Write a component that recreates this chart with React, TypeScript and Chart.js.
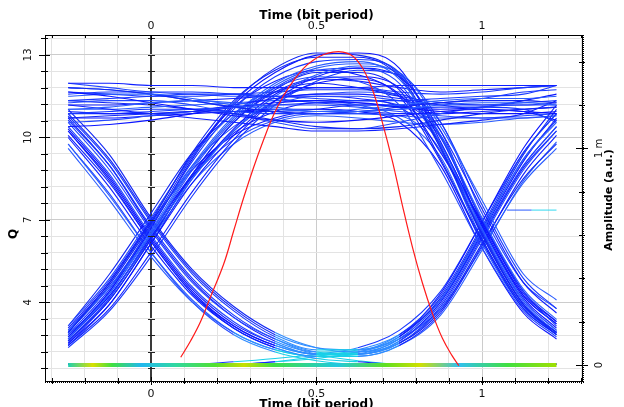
import React, { useEffect, useRef } from 'react';
import { Chart, registerables } from 'chart.js';

Chart.register(...registerables);

// ---- axis ranges / ticks ----
const X_MIN = -0.32;
const X_MAX = 1.302;
const Q_MIN = 1.138;
const Q_MAX = 13.72;
const AMP_MIN = -0.0738;
const AMP_MAX = 1.523;

const X_TICKS = [-0.3, -0.2, -0.1, 0, 0.1, 0.2, 0.3, 0.4, 0.5, 0.6, 0.7, 0.8, 0.9, 1, 1.1, 1.2, 1.3];
const Q_TICKS = [1.6, 2.2, 2.8, 3.4, 4, 4.6, 5.2, 5.8, 6.4, 7, 7.6, 8.2, 8.8, 9.4, 10, 10.6, 11.2, 11.8, 12.4, 13, 13.6];
const AMP_TICKS = [0, 0.2, 0.4, 0.6, 0.8, 1, 1.2, 1.4];

const TIME_LABELS = [0, 0.5, 1];
const Q_LABELS = [4, 7, 10, 13];
const AMP_LABELS = [0, 1];
const AMP_LABEL_TEXT = ['0', '1 m'];

// ---- eye diagram traces (amplitude in m a.u.) sampled at TRACE_T ----
const TRACE_T = [-0.25, -0.125, 0, 0.125, 0.25, 0.375, 0.5, 0.625, 0.75, 0.875, 1.0, 1.125, 1.225];

const highHigh = [
  [1.30, 1.30, 1.29, 1.29, 1.28, 1.28, 1.28, 1.28, 1.29, 1.29, 1.29, 1.29, 1.29],
  [1.22, 1.23, 1.24, 1.25, 1.25, 1.24, 1.23, 1.22, 1.22, 1.23, 1.24, 1.25, 1.29],
  [1.18, 1.19, 1.21, 1.22, 1.21, 1.19, 1.17, 1.17, 1.18, 1.20, 1.21, 1.21, 1.20],
  [1.14, 1.15, 1.16, 1.17, 1.16, 1.13, 1.10, 1.09, 1.10, 1.13, 1.16, 1.18, 1.19],
  [1.26, 1.24, 1.21, 1.18, 1.15, 1.13, 1.12, 1.13, 1.15, 1.17, 1.18, 1.17, 1.16],
  [1.12, 1.13, 1.15, 1.17, 1.19, 1.20, 1.20, 1.19, 1.17, 1.15, 1.14, 1.14, 1.15],
  [1.20, 1.18, 1.16, 1.14, 1.12, 1.10, 1.08, 1.08, 1.09, 1.11, 1.13, 1.16, 1.22],
  [1.16, 1.17, 1.18, 1.18, 1.17, 1.16, 1.16, 1.17, 1.18, 1.19, 1.19, 1.18, 1.12],
  [1.24, 1.25, 1.25, 1.23, 1.20, 1.18, 1.17, 1.18, 1.20, 1.22, 1.23, 1.23, 1.24],
  [1.28, 1.27, 1.25, 1.22, 1.19, 1.17, 1.16, 1.17, 1.19, 1.21, 1.22, 1.22, 1.21],
  [1.10, 1.11, 1.13, 1.16, 1.19, 1.21, 1.22, 1.21, 1.19, 1.17, 1.16, 1.16, 1.17],
  [1.21, 1.22, 1.22, 1.20, 1.16, 1.12, 1.09, 1.09, 1.12, 1.16, 1.19, 1.20, 1.20],
  [1.17, 1.16, 1.16, 1.17, 1.20, 1.23, 1.25, 1.25, 1.23, 1.20, 1.18, 1.17, 1.13],
  [1.25, 1.26, 1.26, 1.26, 1.25, 1.23, 1.21, 1.20, 1.20, 1.21, 1.23, 1.26, 1.27],
];

const lowHighLow = [
  [0.12, 0.33, 0.62, 0.92, 1.15, 1.30, 1.38, 1.40, 1.32, 1.02, 0.63, 0.30, 0.16],
  [0.15, 0.38, 0.66, 0.98, 1.22, 1.36, 1.42, 1.42, 1.33, 1.00, 0.60, 0.28, 0.14],
  [0.10, 0.28, 0.56, 0.84, 1.06, 1.22, 1.30, 1.32, 1.25, 0.98, 0.66, 0.33, 0.20],
  [0.18, 0.40, 0.68, 0.96, 1.16, 1.28, 1.33, 1.31, 1.20, 0.90, 0.54, 0.25, 0.13],
  [0.09, 0.26, 0.52, 0.80, 1.04, 1.22, 1.33, 1.37, 1.33, 1.08, 0.72, 0.38, 0.24],
  [0.14, 0.35, 0.64, 0.94, 1.18, 1.33, 1.40, 1.41, 1.35, 1.05, 0.67, 0.34, 0.18],
  [0.16, 0.36, 0.60, 0.86, 1.08, 1.24, 1.34, 1.38, 1.35, 1.10, 0.76, 0.42, 0.30],
  [0.11, 0.30, 0.58, 0.88, 1.12, 1.27, 1.35, 1.35, 1.27, 0.95, 0.58, 0.27, 0.15],
  [0.13, 0.34, 0.63, 0.95, 1.20, 1.35, 1.43, 1.44, 1.37, 1.03, 0.64, 0.31, 0.17],
  [0.11, 0.31, 0.60, 0.90, 1.13, 1.28, 1.36, 1.37, 1.30, 1.00, 0.62, 0.29, 0.15],
  [0.17, 0.39, 0.67, 0.97, 1.19, 1.31, 1.36, 1.34, 1.24, 0.94, 0.57, 0.26, 0.14],
  [0.08, 0.25, 0.50, 0.78, 1.02, 1.20, 1.31, 1.36, 1.34, 1.12, 0.74, 0.40, 0.26],
  [0.13, 0.33, 0.61, 0.91, 1.14, 1.29, 1.37, 1.39, 1.34, 1.06, 0.68, 0.35, 0.21],
  [0.15, 0.37, 0.65, 0.96, 1.21, 1.37, 1.44, 1.43, 1.34, 1.01, 0.61, 0.28, 0.15],
  [0.12, 0.32, 0.59, 0.87, 1.09, 1.25, 1.32, 1.33, 1.28, 1.02, 0.65, 0.32, 0.19],
];

const highLowHigh = [
  [1.10, 0.88, 0.60, 0.36, 0.20, 0.10, 0.05, 0.05, 0.11, 0.28, 0.60, 0.92, 1.10],
  [1.05, 0.82, 0.55, 0.32, 0.17, 0.08, 0.04, 0.04, 0.09, 0.24, 0.55, 0.88, 1.06],
  [1.15, 0.94, 0.66, 0.42, 0.25, 0.13, 0.07, 0.07, 0.14, 0.32, 0.64, 0.98, 1.16],
  [1.02, 0.78, 0.52, 0.30, 0.15, 0.07, 0.04, 0.05, 0.12, 0.30, 0.62, 0.95, 1.12],
  [1.18, 0.97, 0.68, 0.44, 0.27, 0.15, 0.08, 0.06, 0.10, 0.25, 0.56, 0.86, 1.02],
  [1.08, 0.86, 0.58, 0.34, 0.18, 0.09, 0.05, 0.06, 0.13, 0.33, 0.66, 1.00, 1.20],
  [1.12, 0.90, 0.62, 0.38, 0.22, 0.12, 0.06, 0.05, 0.10, 0.26, 0.58, 0.90, 1.08],
  [1.06, 0.84, 0.57, 0.33, 0.18, 0.09, 0.05, 0.05, 0.10, 0.27, 0.59, 0.91, 1.08],
  [1.13, 0.92, 0.64, 0.40, 0.23, 0.12, 0.06, 0.06, 0.12, 0.30, 0.62, 0.95, 1.13],
  [1.00, 0.76, 0.50, 0.29, 0.15, 0.07, 0.04, 0.04, 0.09, 0.23, 0.53, 0.85, 1.03],
  [1.16, 0.95, 0.67, 0.43, 0.26, 0.14, 0.08, 0.07, 0.13, 0.31, 0.63, 0.97, 1.18],
  [1.09, 0.87, 0.59, 0.35, 0.19, 0.10, 0.05, 0.05, 0.11, 0.29, 0.61, 0.94, 1.14],
];

const lowHighHigh = [
  [0.12, 0.34, 0.64, 0.92, 1.10, 1.20, 1.24, 1.24, 1.22, 1.20, 1.20, 1.21, 1.22],
  [0.16, 0.38, 0.66, 0.90, 1.06, 1.14, 1.17, 1.17, 1.16, 1.16, 1.17, 1.18, 1.19],
  [0.09, 0.28, 0.56, 0.86, 1.08, 1.22, 1.28, 1.28, 1.26, 1.25, 1.26, 1.28, 1.29],
  [0.14, 0.32, 0.58, 0.84, 1.02, 1.12, 1.15, 1.14, 1.12, 1.11, 1.12, 1.14, 1.15],
  [0.18, 0.42, 0.70, 0.98, 1.16, 1.26, 1.30, 1.28, 1.24, 1.21, 1.20, 1.20, 1.21],
  [0.11, 0.31, 0.60, 0.88, 1.07, 1.17, 1.21, 1.21, 1.19, 1.18, 1.19, 1.22, 1.25],
  [0.15, 0.36, 0.62, 0.87, 1.04, 1.13, 1.16, 1.16, 1.15, 1.14, 1.14, 1.15, 1.16],
  [0.10, 0.30, 0.58, 0.88, 1.12, 1.26, 1.32, 1.31, 1.28, 1.26, 1.27, 1.28, 1.29],
];

const highHighLow = [
  [1.26, 1.25, 1.24, 1.24, 1.25, 1.26, 1.27, 1.27, 1.24, 1.08, 0.62, 0.30, 0.16],
  [1.18, 1.18, 1.19, 1.20, 1.21, 1.22, 1.22, 1.20, 1.14, 0.96, 0.56, 0.26, 0.14],
  [1.22, 1.21, 1.20, 1.18, 1.17, 1.17, 1.18, 1.20, 1.20, 1.06, 0.66, 0.34, 0.20],
  [1.14, 1.14, 1.15, 1.16, 1.17, 1.18, 1.18, 1.17, 1.12, 0.92, 0.54, 0.24, 0.12],
  [1.30, 1.28, 1.26, 1.25, 1.24, 1.24, 1.25, 1.26, 1.25, 1.12, 0.70, 0.38, 0.26],
  [1.20, 1.20, 1.21, 1.22, 1.23, 1.24, 1.24, 1.23, 1.19, 1.02, 0.60, 0.28, 0.15],
  [1.16, 1.16, 1.17, 1.18, 1.19, 1.20, 1.21, 1.22, 1.20, 1.05, 0.64, 0.32, 0.19],
  [1.28, 1.27, 1.25, 1.22, 1.19, 1.17, 1.16, 1.16, 1.15, 0.99, 0.58, 0.27, 0.14],
];

const highLowLow = [
  [1.08, 0.85, 0.57, 0.33, 0.17, 0.08, 0.03, 0.015, 0.004, 0.004, 0.004, 0.004, 0.004],
  [1.14, 0.92, 0.63, 0.39, 0.22, 0.11, 0.05, 0.02, 0.004, 0.004, 0.004, 0.004, 0.004],
  [1.02, 0.79, 0.52, 0.29, 0.14, 0.06, 0.02, 0.004, 0.004, 0.004, 0.004, 0.004, 0.004],
];

const lowLowHigh = [
  [0.004, 0.004, 0.004, 0.004, 0.004, 0.015, 0.04, 0.07, 0.14, 0.30, 0.60, 0.92, 1.10],
  [0.004, 0.004, 0.004, 0.004, 0.015, 0.03, 0.05, 0.08, 0.16, 0.34, 0.66, 0.98, 1.16],
  [0.004, 0.004, 0.004, 0.004, 0.004, 0.015, 0.03, 0.06, 0.12, 0.26, 0.54, 0.84, 1.00],
];

// zero level (0-0 bits)
const ZERO_T = [-0.25, 1.225];
const ZERO_A = [0, 0];

// short stray trace at right
const STRAY_T = [1.075, 1.15, 1.225];
const STRAY_A = [0.715, 0.715, 0.715];

// ---- Q factor curve ----
const RED_T = [0.09, 0.12, 0.15, 0.18, 0.22, 0.25, 0.28, 0.31, 0.34, 0.37, 0.40, 0.43, 0.46, 0.49, 0.52, 0.55, 0.58, 0.61, 0.64, 0.67, 0.70, 0.73, 0.76, 0.79, 0.82, 0.85, 0.88, 0.91, 0.93];
const RED_Q = [2.0, 2.6, 3.3, 4.2, 5.4, 6.6, 7.8, 8.9, 9.9, 10.8, 11.5, 12.05, 12.5, 12.8, 13.0, 13.1, 13.1, 12.95, 12.5, 11.7, 10.5, 9.1, 7.5, 6.0, 4.7, 3.6, 2.7, 2.05, 1.7];

const BLUES = ['#0f1fff', '#1838ff', '#2a5cff', '#1026f4', '#0a14ff', '#2448ff'];

const toPoints = (ts: number[], vs: number[]) => ts.map((t, i) => ({ x: t, y: vs[i] }));

const lowSegColor = (ctx: any) => {
  const m = Math.max(ctx.p0.parsed.y, ctx.p1.parsed.y);
  if (m < 0.02) return undefined;
  if (m < 0.075) return '#18d0e8';
  if (m < 0.16) return '#2f8cff';
  return undefined;
};

const decorPlugin = {
  id: 'eyeDecor',
  afterDraw(chart: any) {
    const { ctx, chartArea: a } = chart;
    const xs = chart.scales.x;
    const yq = chart.scales.y;
    const ya = chart.scales.y2;
    ctx.save();
    ctx.strokeStyle = '#000';
    ctx.lineWidth = 1;
    const line = (x1: number, y1: number, x2: number, y2: number) => {
      ctx.beginPath();
      ctx.moveTo(x1, y1);
      ctx.lineTo(x2, y2);
      ctx.stroke();
    };
    const x0 = Math.round(xs.getPixelForValue(0));
    Q_TICKS.forEach((v) => {
      const y = Math.round(yq.getPixelForValue(v)) + 0.5;
      const major = Q_LABELS.includes(v);
      line(a.left - (major ? 6 : 4), y, a.left + (major ? 5 : 3), y);
      ctx.strokeStyle = '#222';
      line(x0 - 3, y, x0 + 4, y);
      ctx.strokeStyle = '#000';
    });
    X_TICKS.forEach((v) => {
      const x = Math.round(xs.getPixelForValue(v)) + 0.5;
      const major = TIME_LABELS.includes(v);
      line(x, a.top, x, a.top + (major ? 5 : 3));
      line(x, a.bottom - (major ? 4 : 3), x, a.bottom + (major ? 4 : 3));
    });
    AMP_TICKS.forEach((v) => {
      const y = Math.round(ya.getPixelForValue(v)) + 0.5;
      const major = AMP_LABELS.includes(v);
      line(a.right - (major ? 6 : 3), y, a.right + (major ? 6 : 3), y);
    });
    ctx.setLineDash([1, 1]);
    line(a.left, Math.round(a.bottom) + 1.5, a.right + 2, Math.round(a.bottom) + 1.5);
    line(Math.round(a.right) + 1.5, a.top, Math.round(a.right) + 1.5, a.bottom + 2);
    ctx.setLineDash([]);

    // texts
    ctx.fillStyle = '#111';
    ctx.textAlign = 'center';
    ctx.textBaseline = 'middle';
    ctx.font = '11px "DejaVu Sans"';
    TIME_LABELS.forEach((v) => {
      const x = xs.getPixelForValue(v);
      ctx.fillText(String(v), x, a.bottom + 13);
      ctx.fillText(String(v), x, a.top - 9);
    });
    const vtext = (t: string, x: number, y: number) => {
      ctx.save();
      ctx.translate(x, y);
      ctx.rotate(-Math.PI / 2);
      ctx.fillText(t, 0, 0);
      ctx.restore();
    };
    ctx.font = '10px "DejaVu Sans"';
    Q_LABELS.forEach((v) => vtext(String(v), a.left - 17, yq.getPixelForValue(v)));
    AMP_LABELS.forEach((v, i) => vtext(AMP_LABEL_TEXT[i], a.right + 17, ya.getPixelForValue(v)));

    ctx.fillStyle = '#000';
    ctx.font = 'bold 12px "DejaVu Sans"';
    const tc = xs.getPixelForValue(0.5);
    ctx.fillText('Time (bit period)', tc, 16);
    ctx.fillText('Time (bit period)', tc, a.bottom + 24);
    vtext('Q', 14, 234);
    ctx.font = 'bold 11px "DejaVu Sans"';
    vtext('Amplitude (a.u.)', 609, 200);
    ctx.restore();
  },
};

export default function App() {
  const ref = useRef<HTMLCanvasElement>(null);

  useEffect(() => {
    const canvas = ref.current;
    if (!canvas) return;

    const blueGroups = [highHigh, lowHighLow, highLowHigh, lowHighHigh, highHighLow, highLowLow, lowLowHigh];
    const blueSets: any[] = [];
    let k = 0;
    blueGroups.forEach((group) => {
      group.forEach((vals) => {
        blueSets.push({
          data: toPoints(TRACE_T, vals),
          yAxisID: 'y2',
          borderColor: BLUES[k % BLUES.length],
          borderWidth: 1.1,
          pointRadius: 0,
          cubicInterpolationMode: 'monotone',
          segment: { borderColor: lowSegColor },
        });
        k++;
      });
    });

    const zeroGradient = (ctx: any) => {
      const chart = ctx.chart;
      if (!chart.chartArea) return '#30d060';
      const xs = chart.scales.x;
      const g = chart.ctx.createLinearGradient(xs.getPixelForValue(ZERO_T[0]), 0, xs.getPixelForValue(ZERO_T[1]), 0);
      g.addColorStop(0.0, '#20d0b0');
      g.addColorStop(0.05, '#d8e000');
      g.addColorStop(0.09, '#40e040');
      g.addColorStop(0.15, '#20b8f0');
      g.addColorStop(0.22, '#30d8a0');
      g.addColorStop(0.3, '#50e030');
      g.addColorStop(0.36, '#c8e000');
      g.addColorStop(0.42, '#40e040');
      g.addColorStop(0.55, '#20c8e0');
      g.addColorStop(0.65, '#60e020');
      g.addColorStop(0.72, '#d0e000');
      g.addColorStop(0.8, '#30c0f0');
      g.addColorStop(0.9, '#40e040');
      g.addColorStop(1.0, '#a0e000');
      return g;
    };

    const xGridColor = (c: any) => {
      const v = c.tick ? c.tick.value : null;
      if (v === 0) return '#3a3a3a';
      if (v === 0.5 || v === 1) return '#cccccc';
      return '#e3e3e3';
    };
    const yGridColor = (c: any) => {
      const v = c.tick ? c.tick.value : null;
      if (Q_LABELS.includes(v)) return '#cccccc';
      return '#e3e3e3';
    };

    const chart = new Chart(canvas, {
      type: 'line',
      data: {
        datasets: [
          {
            data: toPoints(RED_T, RED_Q),
            yAxisID: 'y',
            borderColor: '#ff1a1a',
            borderWidth: 1.2,
            pointRadius: 0,
            tension: 0.4,
          },
          {
            data: toPoints(STRAY_T, STRAY_A),
            yAxisID: 'y2',
            borderColor: '#2a5cff',
            borderWidth: 1,
            pointRadius: 0,
            segment: { borderColor: (c: any) => (c.p0.parsed.x > 1.1 ? '#30d8f0' : undefined) },
          },
          {
            data: toPoints(ZERO_T, ZERO_A),
            yAxisID: 'y2',
            borderColor: zeroGradient,
            borderWidth: 4,
            borderCapStyle: 'butt',
            pointRadius: 0,
          },
          ...blueSets,
        ],
      } as any,
      options: {
        responsive: false,
        animation: false,
        events: [],
        layout: { padding: 0 },
        plugins: { legend: { display: false }, tooltip: { enabled: false }, title: { display: false } },
        scales: {
          x: {
            type: 'linear',
            position: 'bottom',
            min: X_MIN,
            max: X_MAX,
            afterBuildTicks: (s: any) => { s.ticks = X_TICKS.map((v) => ({ value: v })); },
            afterFit: (s: any) => { s.height = 26; },
            ticks: { display: false },
            grid: {
              color: xGridColor,
              lineWidth: (c: any) => (c.tick && c.tick.value === 0 ? 2 : 1),
              drawTicks: false,
            },
            border: { display: true, color: '#000', width: 1 },
          },
          x2: {
            type: 'linear',
            position: 'top',
            min: X_MIN,
            max: X_MAX,
            afterBuildTicks: (s: any) => { s.ticks = X_TICKS.map((v) => ({ value: v })); },
            afterFit: (s: any) => { s.height = 35; },
            ticks: { display: false },
            grid: { drawOnChartArea: false, drawTicks: false },
            border: { display: true, color: '#000', width: 1 },
          },
          y: {
            type: 'linear',
            position: 'left',
            min: Q_MIN,
            max: Q_MAX,
            afterBuildTicks: (s: any) => { s.ticks = Q_TICKS.map((v) => ({ value: v })); },
            afterFit: (s: any) => { s.width = 45; },
            ticks: { display: false },
            grid: { color: yGridColor, lineWidth: 1, drawTicks: false },
            border: { display: true, color: '#000', width: 1 },
          },
          y2: {
            type: 'linear',
            position: 'right',
            min: AMP_MIN,
            max: AMP_MAX,
            afterBuildTicks: (s: any) => { s.ticks = AMP_TICKS.map((v) => ({ value: v })); },
            afterFit: (s: any) => { s.width = 42; },
            ticks: { display: false },
            grid: { drawOnChartArea: false, drawTicks: false },
            border: { display: true, color: '#000', width: 1 },
          },
        },
      } as any,
      plugins: [decorPlugin],
    });

    return () => chart.destroy();
  }, []);

  return (
    <div style={{ position: 'fixed', left: 0, top: 0, width: 624, height: 407, background: '#fff' }}>
      <canvas ref={ref} width={624} height={407} style={{ display: 'block', width: 624, height: 407 }} />
    </div>
  );
}
